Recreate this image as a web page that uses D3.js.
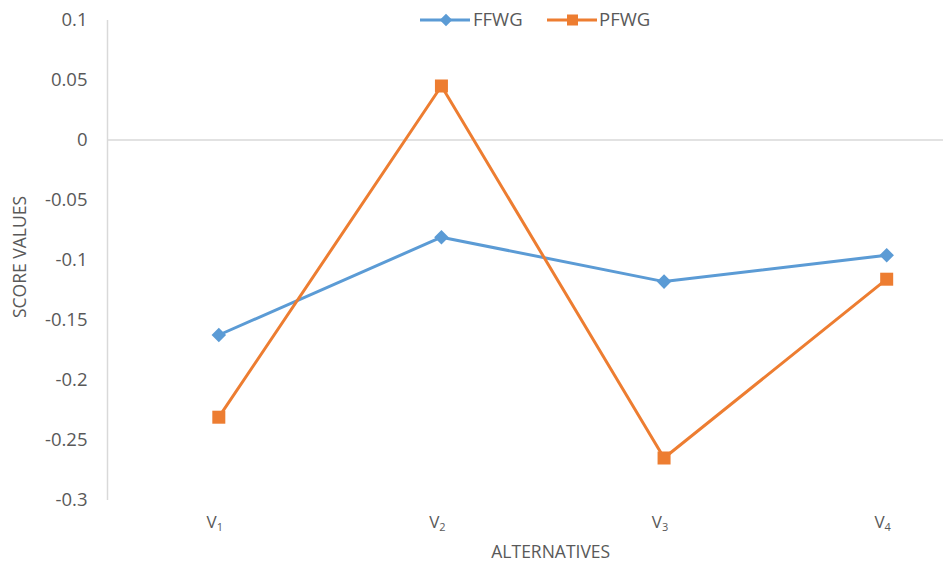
<!DOCTYPE html>
<html>
<head>
<meta charset="utf-8">
<script src="https://cdn.jsdelivr.net/npm/d3@7"></script>
<style>
  html, body { margin: 0; padding: 0; background: #fff; }
  svg { display: block; }
  text { font-family: "Open Sans", "Liberation Sans", sans-serif; fill: #595959; }
</style>
</head>
<body>
<svg id="chart" width="943" height="564"></svg>
<script>
const categories = ["V1", "V2", "V3", "V4"];
const categorySubs = ["1", "2", "3", "4"];
const seriesNames = ["FFWG", "PFWG"];
const ffwg = [-0.1625, -0.081, -0.118, -0.096];
const pfwg = [-0.231, 0.045, -0.265, -0.116];
const yTicks = [0.1, 0.05, 0, -0.05, -0.1, -0.15, -0.2, -0.25, -0.3];
const yTickLabels = ["0.1", "0.05", "0", "-0.05", "-0.1", "-0.15", "-0.2", "-0.25", "-0.3"];
const xTitle = "ALTERNATIVES";
const yTitle = "SCORE VALUES";

const colors = ["#5B9BD5", "#ED7D31"];
const svg = d3.select("#chart");
const W = 943, H = 564;
const m = { left: 107.5, right: 998, top: 20, bottom: 500 };

const x = d3.scaleBand().domain(categories).range([m.left, m.right]).padding(0);
const y = d3.scaleLinear().domain([-0.3, 0.1]).range([m.bottom, m.top]);
const cx = d => x(d) + x.bandwidth() / 2;

// y axis line
svg.append("line").attr("x1", m.left).attr("x2", m.left)
  .attr("y1", y(0.1)).attr("y2", y(-0.3))
  .attr("stroke", "#D9D9D9").attr("stroke-width", 1.5);
// zero (category axis) line
svg.append("line").attr("x1", m.left).attr("x2", W)
  .attr("y1", y(0)).attr("y2", y(0))
  .attr("stroke", "#D9D9D9").attr("stroke-width", 1.5);

// y tick labels
svg.append("g").selectAll("text").data(yTicks).join("text")
  .attr("x", 87.5).attr("y", d => y(d)).attr("dy", "0.35em")
  .attr("text-anchor", "end").attr("font-size", 18.5)
  .text((d, i) => yTickLabels[i]);

// x category labels
const xl = svg.append("g").selectAll("text").data(categories).join("text")
  .attr("x", d => cx(d) - 4).attr("y", 528)
  .attr("text-anchor", "middle").attr("font-size", 17);
xl.append("tspan").text("V");
xl.append("tspan").attr("font-size", 11).attr("dy", 3).text((d, i) => categorySubs[i]);

// axis titles
svg.append("text").attr("x", (m.left + m.right) / 2 - 2).attr("y", 558)
  .attr("text-anchor", "middle").attr("font-size", 17.5).text(xTitle);
svg.append("text").attr("transform", `translate(26,${(m.top + m.bottom) / 2 - 3}) rotate(-90)`)
  .attr("text-anchor", "middle").attr("font-size", 17.5).text(yTitle);

// series
const line = d3.line().x((d, i) => cx(categories[i])).y(d => y(d));
const series = [ffwg, pfwg];
series.forEach((vals, si) => {
  svg.append("path").datum(vals).attr("d", line)
    .attr("fill", "none").attr("stroke", colors[si]).attr("stroke-width", 3)
    .attr("stroke-linejoin", "round");
});
// FFWG diamonds
svg.append("g").selectAll("path").data(ffwg).join("path")
  .attr("transform", (d, i) => `translate(${cx(categories[i])},${y(d)})`)
  .attr("d", d3.symbol(d3.symbolDiamond2, 135)())
  .attr("fill", colors[0]);
// PFWG squares
svg.append("g").selectAll("rect").data(pfwg).join("rect")
  .attr("x", (d, i) => cx(categories[i]) - 6.5).attr("y", d => y(d) - 6.5)
  .attr("width", 13).attr("height", 13).attr("fill", colors[1]);

// legend
const leg = svg.append("g");
const legItems = [{ x0: 420, tx: 473 }, { x0: 547, tx: 599 }];
legItems.forEach((it, i) => {
  leg.append("line").attr("x1", it.x0).attr("x2", it.x0 + 50).attr("y1", 20).attr("y2", 20)
    .attr("stroke", colors[i]).attr("stroke-width", 3);
  if (i === 0) {
    leg.append("path").attr("transform", `translate(${it.x0 + 26},20)`)
      .attr("d", d3.symbol(d3.symbolDiamond2, 100)()).attr("fill", colors[0]);
  } else {
    leg.append("rect").attr("x", it.x0 + 20).attr("y", 14.5).attr("width", 11).attr("height", 11)
      .attr("fill", colors[1]);
  }
  leg.append("text").attr("x", it.tx).attr("y", 20).attr("dy", "0.35em")
    .attr("font-size", 18.5).text(seriesNames[i]);
});
</script>
</body>
</html>
